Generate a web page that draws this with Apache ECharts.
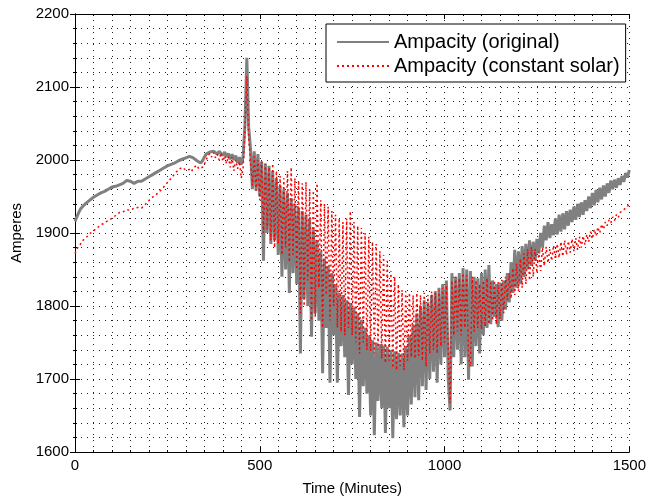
<!DOCTYPE html>
<html><head><meta charset="utf-8">
<script src="https://cdn.jsdelivr.net/npm/echarts@6/dist/echarts.min.js"></script>
<style>html,body{margin:0;padding:0;background:#fff}#c{width:649px;height:501px}</style>
</head><body><div id="c"></div><script>
// Sample spacing (minutes) of the two series
const step = 5;
const seriesNames = ['Ampacity (original)', 'Ampacity (constant solar)'];
// Ampacity (original), t = 0..1500 every 5 minutes
const original = [
1916,1922,1928,1933,1936,1938,1941,1943,1945,1947,
1949,1950,1952,1953,1955,1956,1957,1959,1960,1962,
1963,1962,1964,1965,1966,1966,1968,1970,1972,1973,
1971,1969,1968,1970,1971,1970,1971,1972,1974,1976,
1977,1979,1980,1982,1983,1985,1986,1987,1989,1990,
1992,1993,1994,1995,1996,1997,1999,2000,2001,2002,
2003,2004,2005,2004,2003,2001,1999,1997,1996,1999,
2004,2008,2010,2011,2009,2012,2010,2008,2012,2009,
2006,2011,2004,2009,2001,2008,2000,2006,1996,2004,
1994,2005,2050,2140,2045,2015,1960,2012,1958,2008,
1950,1998,1862,1995,1900,1992,1885,1985,1890,1975,
1870,1965,1840,1960,1850,1955,1818,1948,1845,1940,
1830,1935,1735,1930,1810,1925,1800,1920,1758,1905,
1790,1890,1780,1875,1708,1865,1770,1855,1695,1845,
1760,1830,1695,1818,1745,1815,1730,1808,1678,1804,
1720,1798,1700,1790,1648,1781,1690,1770,1680,1760,
1650,1753,1623,1750,1670,1748,1660,1746,1626,1744,
1660,1740,1619,1738,1645,1736,1650,1735,1634,1745,
1650,1760,1665,1775,1675,1790,1671,1800,1690,1808,
1685,1805,1700,1815,1710,1820,1695,1825,1720,1830,
1730,1835,1700,1657,1845,1730,1840,1740,1845,1720,
1852,1730,1850,1699,1848,1717,1840,1745,1838,1735,
1845,1760,1850,1770,1856,1775,1835,1785,1830,1771,
1832,1780,1835,1795,1845,1805,1860,1818,1877,1825,
1875,1830,1882,1840,1885,1850,1890,1855,1888,1862,
1892,1872,1900,1880,1910,1890,1915,1893,1912,1897,
1920,1898,1925,1902,1927,1905,1930,1910,1932,1915,
1936,1918,1940,1922,1942,1925,1945,1930,1950,1934,
1955,1938,1959,1942,1962,1946,1965,1950,1968,1955,
1972,1960,1973,1962,1975,1966,1978,1970,1982,1976,
1986];
// Ampacity (constant solar), t = 0..1500 every 5 minutes
const constantSolar = [
1872,1878,1882,1885,1889,1892,1894,1896,1899,1901,
1903,1905,1907,1909,1911,1912,1914,1915,1917,1918,
1920,1922,1924,1926,1928,1930,1929,1931,1932,1933,
1931,1932,1934,1933,1935,1936,1934,1936,1939,1942,
1944,1947,1949,1951,1953,1955,1957,1960,1963,1966,
1969,1972,1975,1978,1981,1984,1987,1989,1990,1988,
1986,1985,1987,1984,1989,1991,1993,1988,1986,1990,
1994,2000,2006,2009,2004,2010,2003,2008,2000,2010,
1998,2006,1995,2005,1990,2004,1985,2000,1988,1998,
1975,1990,2040,2115,2030,1998,1965,2005,1958,2000,
1945,1998,1900,1995,1905,1990,1890,1995,1880,1985,
1885,1978,1870,1975,1880,1985,1860,1990,1870,1975,
1850,1972,1790,1968,1800,1970,1835,1960,1780,1958,
1785,1968,1825,1945,1770,1940,1815,1936,1780,1930,
1800,1925,1770,1920,1765,1915,1760,1920,1770,1930,
1760,1915,1750,1910,1735,1907,1750,1900,1740,1895,
1738,1888,1735,1885,1740,1875,1728,1870,1722,1862,
1725,1848,1715,1840,1712,1830,1718,1822,1712,1820,
1725,1818,1730,1815,1728,1818,1732,1815,1725,1818,
1717,1815,1735,1820,1740,1818,1735,1822,1745,1825,
1750,1828,1740,1667,1835,1760,1840,1765,1838,1760,
1845,1770,1842,1730,1717,1840,1765,1835,1770,1830,
1768,1835,1772,1838,1775,1832,1780,1835,1775,1833,
1782,1836,1790,1840,1808,1845,1810,1852,1815,1858,
1820,1865,1825,1872,1830,1878,1835,1881,1840,1878,
1845,1875,1848,1880,1855,1881,1859,1878,1862,1883,
1864,1885,1866,1888,1868,1890,1870,1889,1873,1892,
1875,1893,1877,1895,1880,1896,1884,1898,1888,1902,
1892,1905,1896,1908,1900,1912,1905,1915,1910,1918,
1914,1922,1917,1925,1921,1928,1926,1932,1931,1936,
1941];
const xMin = 0, xMax = 1500, xInterval = 500;
const yMin = 1600, yMax = 2200, yInterval = 100;

const pairs = arr => arr.map((v, i) => [i * step, v]);
const font = 'Liberation Sans, Arial, sans-serif';
const dotted = { color: '#222', width: 1, type: [1, 5] };
const plain = v => String(v);

const chart = echarts.init(document.getElementById('c'), null, { renderer: 'canvas' });
const baseAxis = {
  axisLine: { show: true, lineStyle: { color: '#000', width: 1 } },
  axisTick: { show: true, inside: true, length: 5, lineStyle: { color: '#000' } },
};
chart.setOption({
  animation: false,
  backgroundColor: '#fff',
  grid: { left: 75, right: 19, top: 14, bottom: 49, show: false },
  legend: {
    left: 326, top: 24, orient: 'vertical',
    padding: [7, 6, 5, 10], itemGap: 2, itemWidth: 52, itemHeight: 14,
    borderColor: '#000', borderWidth: 1, backgroundColor: '#fff',
    itemStyle: { opacity: 0 },
    textStyle: { fontSize: 20, fontFamily: font, color: '#000', lineHeight: 22 },
    data: seriesNames
  },
  xAxis: [
    Object.assign({}, baseAxis, {
      type: 'value', min: xMin, max: xMax, interval: xInterval, position: 'bottom',
      minorTick: { show: true, splitNumber: 10, length: 2, lineStyle: { color: '#000' } },
      axisLabel: { fontSize: 15, fontFamily: font, color: '#000', margin: 6, formatter: plain },
      splitLine: { show: true, lineStyle: dotted },
      minorSplitLine: { show: true, lineStyle: dotted },
      name: 'Time (Minutes)', nameLocation: 'middle', nameGap: 29,
      nameTextStyle: { fontSize: 15, fontFamily: font, color: '#000' }
    }),
    Object.assign({}, baseAxis, {
      type: 'value', min: xMin, max: xMax, interval: xInterval, position: 'top',
      minorTick: { show: true, splitNumber: 10, length: 2, lineStyle: { color: '#000' } },
      axisLabel: { show: false }, splitLine: { show: false }
    })
  ],
  yAxis: [
    Object.assign({}, baseAxis, {
      type: 'value', min: yMin, max: yMax, interval: yInterval, position: 'left',
      minorTick: { show: true, splitNumber: 5, length: 2, lineStyle: { color: '#000' } },
      axisLabel: { fontSize: 15, fontFamily: font, color: '#000', margin: 6, formatter: plain },
      splitLine: { show: true, lineStyle: dotted },
      minorSplitLine: { show: true, lineStyle: dotted },
      name: 'Amperes', nameLocation: 'middle', nameGap: 43, nameRotate: 90,
      nameTextStyle: { fontSize: 15, fontFamily: font, color: '#000' }
    }),
    Object.assign({}, baseAxis, {
      type: 'value', min: yMin, max: yMax, interval: yInterval, position: 'right',
      minorTick: { show: true, splitNumber: 5, length: 2, lineStyle: { color: '#000' } },
      axisLabel: { show: false }, splitLine: { show: false }
    })
  ],
  series: [
    {
      name: seriesNames[0], type: 'line', data: pairs(original),
      symbol: 'none', showSymbol: false, z: 2,
      itemStyle: { color: '#808080' },
      lineStyle: { color: '#808080', width: 3 }
    },
    {
      name: seriesNames[1], type: 'line', data: pairs(constantSolar),
      symbol: 'none', showSymbol: false, z: 3,
      itemStyle: { color: '#ff0000' },
      lineStyle: { color: '#ff0000', width: 1.5, type: [2, 3] }
    }
  ]
});
</script></body></html>
